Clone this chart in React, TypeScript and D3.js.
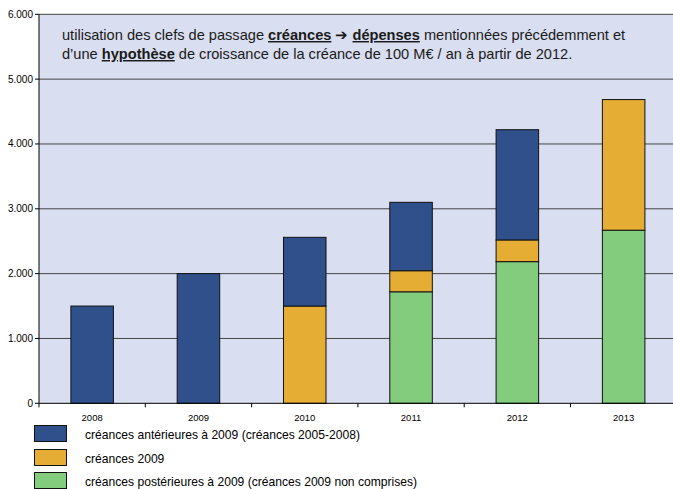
import React from "react";
import * as d3 from "d3";

const years = ["2008", "2009", "2010", "2011", "2012", "2013"];
const anterieures = [1500, 2000, 1060, 1055, 1700, 0];
const creances2009 = [0, 0, 1500, 325, 335, 2015];
const posterieures = [0, 0, 0, 1720, 2185, 2670];
const yTicks = [0, 1000, 2000, 3000, 4000, 5000, 6000];
const seriesNames = [
  "créances antérieures à 2009 (créances 2005-2008)",
  "créances 2009",
  "créances postérieures à 2009 (créances 2009 non comprises)",
];
const colors = ["#30508C", "#E6AD35", "#83CC7E"];

const fmt = (v: number) => (v === 0 ? "0" : d3.format(".3f")(v / 1000));

export default function App() {
  const W = 673, H = 489;
  const left = 39, top = 14.3, bottom = 403.3;
  const step = 106.3;
  const x = d3.scaleBand<string>().domain(years).range([left, left + step * years.length]).paddingInner(0.6).paddingOuter(0.3);
  const y = d3.scaleLinear().domain([0, 6000]).range([bottom, top]);

  const table = years.map((yr, i) => ({ year: yr, post: posterieures[i], c2009: creances2009[i], ant: anterieures[i] }));
  const stack = d3.stack<any>().keys(["post", "c2009", "ant"]);
  const stacked = stack(table);
  const keyColor: Record<string, string> = { post: colors[2], c2009: colors[1], ant: colors[0] };

  const font = "'Liberation Sans', Arial, sans-serif";
  const legendY = [425, 449, 472];

  return (
    <svg width={W} height={H} style={{ position: "absolute", left: 0, top: 0, background: "#fff" }}>
      <rect x={left} y={top} width={W - left} height={bottom - top} fill="#D9DEF0" />
      {yTicks.map((t) => (
        <g key={t}>
          {t > 0 && <line x1={left} x2={W} y1={y(t)} y2={y(t)} stroke="#444" strokeWidth={1} />}
          <line x1={left - 4} x2={left} y1={y(t)} y2={y(t)} stroke="#000" strokeWidth={1} />
          <text x={left - 6} y={y(t)} dy="0.35em" textAnchor="end" fontFamily={font} fontSize={10} fill="#000">
            {fmt(t)}
          </text>
        </g>
      ))}
      {stacked.map((s) => (
        <g key={s.key}>
          {s.map((d, i) =>
            d[1] - d[0] > 0 ? (
              <rect
                key={i}
                x={x(years[i])}
                y={y(d[1])}
                width={x.bandwidth()}
                height={y(d[0]) - y(d[1])}
                fill={keyColor[s.key]}
                stroke="#111"
                strokeWidth={1}
              />
            ) : null
          )}
        </g>
      ))}
      <line x1={left} x2={left} y1={top} y2={bottom} stroke="#000" strokeWidth={1} />
      <line x1={left} x2={W} y1={bottom} y2={bottom} stroke="#000" strokeWidth={1} />
      {d3.range(years.length + 1).map((i) => (
        <line key={i} x1={left + i * step} x2={left + i * step} y1={bottom} y2={bottom + 4} stroke="#000" />
      ))}
      {years.map((yr) => (
        <text key={yr} x={(x(yr) as number) + x.bandwidth() / 2} y={421} textAnchor="middle" fontFamily={font} fontSize={9.5} fill="#000">
          {yr}
        </text>
      ))}
      <text x={62} y={40} fontFamily={font} fontSize={14.6} fill="#1a1a1a">
        utilisation des clefs de passage{" "}
        <tspan fontWeight="bold" textDecoration="underline">créances</tspan> ➔{" "}
        <tspan fontWeight="bold" textDecoration="underline">dépenses</tspan> mentionnées précédemment et
      </text>
      <text x={62} y={59} fontFamily={font} fontSize={14.6} fill="#1a1a1a">
        d’une <tspan fontWeight="bold" textDecoration="underline">hypothèse</tspan> de croissance de la créance de 100 M€ / an à partir de 2012.
      </text>
      {seriesNames.map((n, i) => (
        <g key={n}>
          <rect x={34.5} y={legendY[i] + 0.5} width={32} height={16} fill={colors[i]} stroke="#111" strokeWidth={1} />
          <text x={85} y={legendY[i] + 9.5} dy="0.35em" fontFamily={font} fontSize={12.1} fill="#000">
            {n}
          </text>
        </g>
      ))}
    </svg>
  );
}
